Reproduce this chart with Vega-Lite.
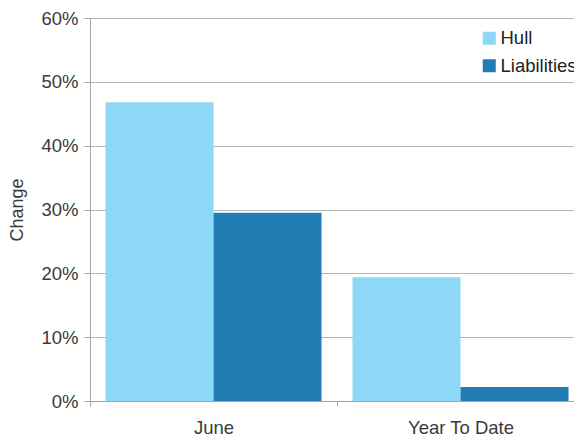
{
  "$schema": "https://vega.github.io/schema/vega-lite/v6.json",
  "autosize": "none",
  "width": 494,
  "height": 383,
  "padding": {"left": 90, "top": 18, "right": -10, "bottom": 34},
  "background": "white",
  "config": {
    "font": "Liberation Sans",
    "view": {"stroke": null},
    "axis": {"labelFont": "Liberation Sans", "titleFont": "Liberation Sans", "labelColor": "#3a3a3a", "titleColor": "#3a3a3a", "labelFontSize": 18.5, "titleFontSize": 18, "titleFontWeight": "normal", "domainColor": "#a6a6a6", "tickColor": "#a6a6a6", "gridColor": "#b5b5b5"}
  },
  "data": {
    "values": [
      {"period": "June", "type": "Hull", "change": 0.468},
      {"period": "June", "type": "Liabilities", "change": 0.295},
      {"period": "Year To Date", "type": "Hull", "change": 0.194},
      {"period": "Year To Date", "type": "Liabilities", "change": 0.022}
    ]
  },
  "mark": {"type": "bar"},
  "encoding": {
    "x": {
      "field": "period", "type": "nominal", "sort": ["June", "Year To Date"],
      "scale": {"paddingInner": 0, "paddingOuter": 0},
      "axis": {"title": null, "labelAngle": 0, "tickBand": "extent", "tickSize": 5, "labelPadding": 12, "grid": false}
    },
    "xOffset": {"field": "type", "type": "nominal", "sort": ["Hull", "Liabilities"], "scale": {"paddingInner": 0, "paddingOuter": 0.1435}},
    "y": {
      "field": "change", "type": "quantitative",
      "scale": {"domain": [0, 0.6], "nice": false},
      "axis": {"title": "Change", "format": ".0%", "values": [0, 0.1, 0.2, 0.3, 0.4, 0.5, 0.6], "tickSize": 6, "labelPadding": 6, "titlePadding": 14, "grid": true}
    },
    "color": {
      "field": "type", "type": "nominal", "sort": ["Hull", "Liabilities"],
      "scale": {"domain": ["Hull", "Liabilities"], "range": ["#8dd7f7", "#217db2"]},
      "legend": {
        "title": null, "orient": "none", "legendX": 384, "legendY": 5,
        "fillColor": "white", "padding": 6, "symbolType": "square", "symbolSize": 169,
        "symbolStrokeWidth": 0, "labelFontSize": 18.5, "labelColor": "#222222", "labelFont": "Liberation Sans", "rowPadding": 8.5, "labelOffset": 2
      }
    }
  }
}
